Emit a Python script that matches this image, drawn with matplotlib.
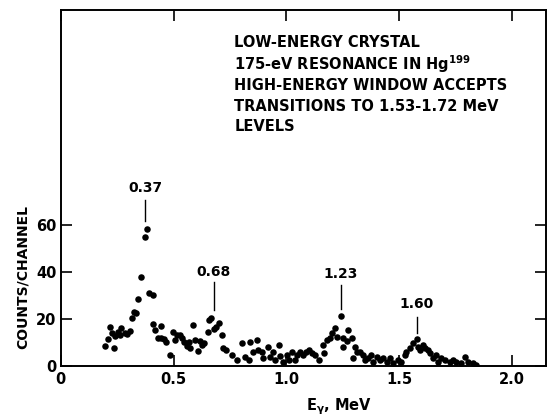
import matplotlib
matplotlib.use("Agg")
import matplotlib.pyplot as plt

# gamma energy (MeV) and counts per channel
energy = [0.198, 0.208, 0.220, 0.227, 0.235, 0.242, 0.253, 0.264, 0.267, 0.286,
          0.294, 0.306, 0.316, 0.323, 0.335, 0.341, 0.357, 0.372, 0.380, 0.390,
          0.409, 0.409, 0.419, 0.431, 0.442, 0.446, 0.456, 0.468, 0.483, 0.496,
          0.508, 0.515, 0.527, 0.537, 0.545, 0.559, 0.567, 0.574, 0.586, 0.593,
          0.607, 0.615, 0.626, 0.633, 0.651, 0.657, 0.666, 0.677, 0.689, 0.700,
          0.714, 0.719, 0.733, 0.758, 0.780, 0.802, 0.817, 0.832, 0.839, 0.851,
          0.869, 0.876, 0.891, 0.898, 0.920, 0.928, 0.942, 0.950, 0.965, 0.972,
          0.987, 1.001, 1.013, 1.023, 1.038, 1.046, 1.061, 1.075, 1.087, 1.102,
          1.112, 1.127, 1.146, 1.164, 1.167, 1.178, 1.193, 1.200, 1.215, 1.223,
          1.240, 1.249, 1.252, 1.270, 1.274, 1.289, 1.296, 1.304, 1.311, 1.326,
          1.341, 1.348, 1.363, 1.377, 1.385, 1.400, 1.415, 1.429, 1.444, 1.459,
          1.473, 1.496, 1.510, 1.525, 1.532, 1.547, 1.562, 1.577, 1.584, 1.592,
          1.606, 1.616, 1.628, 1.636, 1.650, 1.661, 1.673, 1.687, 1.702, 1.724,
          1.739, 1.754, 1.776, 1.791, 1.805, 1.827, 1.842]
counts = [8.6, 11.5, 16.5, 13.9, 7.5, 12.9, 14.6, 13.2, 16.0, 13.9,
          13.5, 14.9, 20.3, 23.1, 22.4, 28.4, 37.9, 54.6, 58.2, 30.8,
          30.2, 17.7, 15.3, 11.8, 17.0, 11.8, 11.5, 10.3, 4.7, 14.6,
          11.1, 13.2, 13.2, 12.0, 10.3, 8.6, 10.3, 7.8, 17.4, 11.1,
          6.4, 10.6, 8.9, 9.9, 14.3, 19.4, 20.3, 15.7, 16.7, 18.1,
          13.2, 7.5, 6.8, 4.7, 2.6, 9.7, 4.0, 2.6, 10.3, 6.1,
          11.1, 6.8, 6.1, 3.3, 8.2, 4.0, 6.1, 2.6, 8.9, 4.3,
          1.8, 4.7, 2.6, 6.1, 2.6, 4.7, 6.1, 4.7, 6.1, 6.8,
          5.4, 4.7, 2.6, 8.9, 5.4, 11.1, 11.8, 13.9, 16.0, 12.5,
          21.4, 8.2, 11.8, 10.8, 15.3, 11.8, 3.3, 8.2, 6.1, 6.1,
          4.7, 2.6, 3.3, 4.7, 1.8, 4.0, 2.6, 3.3, 1.8, 3.3,
          1.1, 2.6, 1.8, 4.7, 6.1, 7.5, 9.7, 11.3, 8.2, 6.8,
          8.9, 7.5, 6.8, 5.4, 3.3, 4.7, 1.8, 3.3, 2.6, 1.8,
          2.6, 1.8, 1.1, 4.0, 1.8, 1.1, 0.4]

# peak labels: text, x of the marker line, line bottom, line top, text y
peak_names = ["0.37", "0.68", "1.23", "1.60"]
peak_x = [0.375, 0.677, 1.240, 1.577]
peak_lo = [61.7, 23.8, 24.3, 14.2]
peak_hi = [70.6, 35.7, 34.5, 21.0]
peak_text_y = [72.5, 37.0, 36.0, 23.5]

note_lines = ["LOW-ENERGY CRYSTAL",
              "175-eV RESONANCE IN Hg$^{\\mathbf{199}}$",
              "HIGH-ENERGY WINDOW ACCEPTS",
              "TRANSITIONS TO 1.53-1.72 MeV",
              "LEVELS"]
note_y = [0.910, 0.848, 0.789, 0.730, 0.674]

plt.rcParams["font.family"] = "DejaVu Sans"
plt.rcParams["font.weight"] = "bold"
plt.rcParams["mathtext.default"] = "bf"

fig = plt.figure(figsize=(5.48, 4.16), dpi=100)
ax = fig.add_axes([0.111, 0.120, 0.885, 0.856])

ax.scatter(energy, counts, s=22, color="black", zorder=3, linewidths=0)

for name, px, lo, hi, ty in zip(peak_names, peak_x, peak_lo, peak_hi, peak_text_y):
    ax.plot([px, px], [lo, hi], color="black", lw=1.0)
    ax.text(px, ty, name, ha="center", va="bottom", fontsize=10, fontweight="bold")

for line, yy in zip(note_lines, note_y):
    ax.text(0.358, yy, line, transform=ax.transAxes, ha="left", va="center",
            fontsize=10.5, fontweight="bold")

ax.set_xlim(0, 2.15)
ax.set_ylim(0, 151)
ax.set_xticks([0, 0.5, 1.0, 1.5, 2.0])
ax.set_xticklabels(["0", "0.5", "1.0", "1.5", "2.0"])
ax.set_yticks([0, 20, 40, 60])
ax.set_yticklabels(["0", "20", "40", "60"])
ax.tick_params(direction="in", length=8, width=1.2, top=True, right=True,
               labelsize=10.5, pad=4)
ax.tick_params(axis="y", pad=3)
for lab in ax.get_xticklabels() + ax.get_yticklabels():
    lab.set_fontweight("bold")
for sp in ax.spines.values():
    sp.set_linewidth(1.4)

ax.set_ylabel("COUNTS/CHANNEL", fontsize=10, fontweight="bold", labelpad=6)
ax.yaxis.set_label_coords(-0.065, 0.25)
ax.set_xlabel("E$_{\\gamma}$, MeV", fontsize=10.5, fontweight="bold")
ax.xaxis.set_label_coords(0.573, -0.085)

fig.savefig("out.png", dpi=100)
